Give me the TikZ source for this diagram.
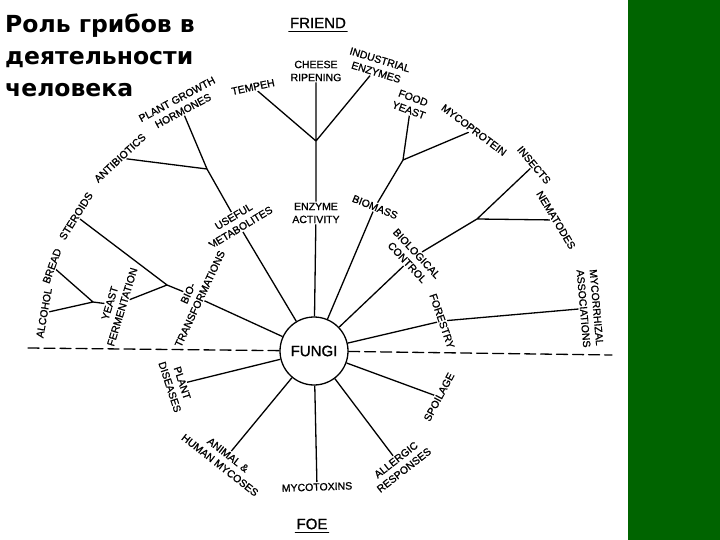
\documentclass[tikz,border=0pt]{standalone}
\usepackage{fontspec}
\usetikzlibrary{backgrounds}
\setmainfont{Liberation Sans}[FakeBold=1]
\newfontfamily\titlefont{DejaVu Sans}
\definecolor{slidegreen}{RGB}{0,100,0}

\begin{document}
\begin{tikzpicture}[x=1pt,y=-1pt,line join=round,line cap=round,
    font=\fontsize{10.5}{13}\selectfont,
    lbl/.style={inner sep=1pt,align=center,fill=white},
    big/.style={inner sep=1pt,font=\fontsize{15}{15}\selectfont},
    branch/.style={line width=1.3pt},
    border/.style={line width=1.3pt,dash pattern=on 11pt off 5pt}]
  \useasboundingbox (0,0) rectangle (720,540);
  \fill[slidegreen] (628,0) rectangle (720,540);
  % title
  \node[anchor=north west,inner sep=0pt,align=left,
        font=\titlefont\bfseries\fontsize{23.5}{32}\selectfont] (title) at (5,14)
        {Роль грибов в\\деятельности\\человека};
  % centre and headings
  \node[draw,circle,fill=white,line width=1.3pt,minimum size=68pt,inner sep=0pt,
        font=\fontsize{15}{15}\selectfont] (fungi) at (314,351) {FUNGI};
  \node[big] (friend) at (318,23) {FRIEND};
  \node[big] (foe) at (312,524) {FOE};
  \draw[branch] ([yshift=-2pt]friend.south west) -- ([yshift=-2pt]friend.south east);
  \draw[branch] ([yshift=-2pt]foe.south west) -- ([yshift=-2pt]foe.south east);
  % forks
  \coordinate (j1) at (316,141);
  \coordinate (j2) at (207,169);
  \coordinate (j3) at (167,285);
  \coordinate (j4) at (93,302);
  \coordinate (j5) at (403,160);
  \coordinate (j6) at (477,219);
  \coordinate (leftend) at (28,348);
  \coordinate (rightend) at (612,355);
  % friend side
  \node[lbl] (enz) at (316,213) {ENZYME\\ACTIVITY};
  \node[lbl] (cheese) at (316,71) {CHEESE\\RIPENING};
  \node[lbl,rotate=12] (tempeh) at (253,87) {TEMPEH};
  \node[lbl,rotate=-17] (indus) at (378,66) {INDUSTRIAL\\ENZYMES};
  \node[lbl,rotate=31] (usemet) at (237,222) {USEFUL\\METABOLITES};
  \node[lbl,rotate=43] (antib) at (120,158) {ANTIBIOTICS};
  \node[lbl,rotate=28] (hormones) at (180,105) {PLANT GROWTH\\HORMONES};
  \node[lbl,rotate=65] (biotr) at (194,296) {BIO-\\TRANSFORMATIONS};
  \node[lbl,rotate=58] (steroids) at (76,216) {STEROIDS};
  \node[lbl,rotate=73] (yeast) at (116,305) {YEAST\\FERMENTATION};
  \node[lbl,rotate=70] (bread) at (52,266) {BREAD};
  \node[lbl,rotate=80] (alcohol) at (44,313) {ALCOHOL};
  \node[lbl,rotate=-22] (biomass) at (375,207) {BIOMASS};
  \node[lbl,rotate=-20] (food) at (411,104) {FOOD\\YEAST};
  \node[lbl,rotate=-37] (myco) at (474,130) {MYCOPROTEIN};
  \node[lbl,rotate=-47] (biocon) at (412,258) {BIOLOGICAL\\CONTROL};
  \node[lbl,rotate=-50] (insects) at (534,165) {INSECTS};
  \node[lbl,rotate=-59] (nemat) at (556,220) {NEMATODES};
  \node[lbl,rotate=-71] (forestry) at (442,321) {FORESTRY};
  \node[lbl,rotate=-85] (mycorr) at (590,308) {MYCORRHIZAL\\ASSOCIATIONS};
  % foe side
  \node[lbl,rotate=-72] (plantdis) at (176,385) {PLANT\\DISEASES};
  \node[lbl,rotate=-38] (mycoses) at (224,460) {ANIMAL \&\\HUMAN MYCOSES};
  \node[lbl,rotate=2] (toxins) at (317,487) {MYCOTOXINS};
  \node[lbl,rotate=38] (allergic) at (400,465) {ALLERGIC\\RESPONSES};
  \node[lbl,rotate=62] (spoilage) at (439,397) {SPOILAGE};
  % branches, behind the labels
  \begin{scope}[on background layer]
    \draw[branch] (fungi) -- (enz) -- (j1);
    \draw[branch] (j1) -- (tempeh) (j1) -- (cheese) (j1) -- (indus);
    \draw[branch] (fungi) -- (usemet) -- (j2);
    \draw[branch] (j2) -- (antib) (j2) -- (hormones);
    \draw[branch] (fungi) -- (biotr) -- (j3);
    \draw[branch] (j3) -- (steroids) (j3) -- (yeast) -- (j4);
    \draw[branch] (j4) -- (bread) (j4) -- (alcohol);
    \draw[branch] (fungi) -- (biomass) -- (j5);
    \draw[branch] (j5) -- (food) (j5) -- (myco);
    \draw[branch] (fungi) -- (biocon) -- (j6);
    \draw[branch] (j6) -- (insects) (j6) -- (nemat);
    \draw[branch] (fungi) -- (forestry) -- (mycorr);
    \draw[branch] (fungi) -- (plantdis) (fungi) -- (mycoses) (fungi) -- (toxins)
      (fungi) -- (allergic) (fungi) -- (spoilage);
  \end{scope}
  \draw[border] (leftend) -- (fungi) -- (rightend);
\end{tikzpicture}
\end{document}
